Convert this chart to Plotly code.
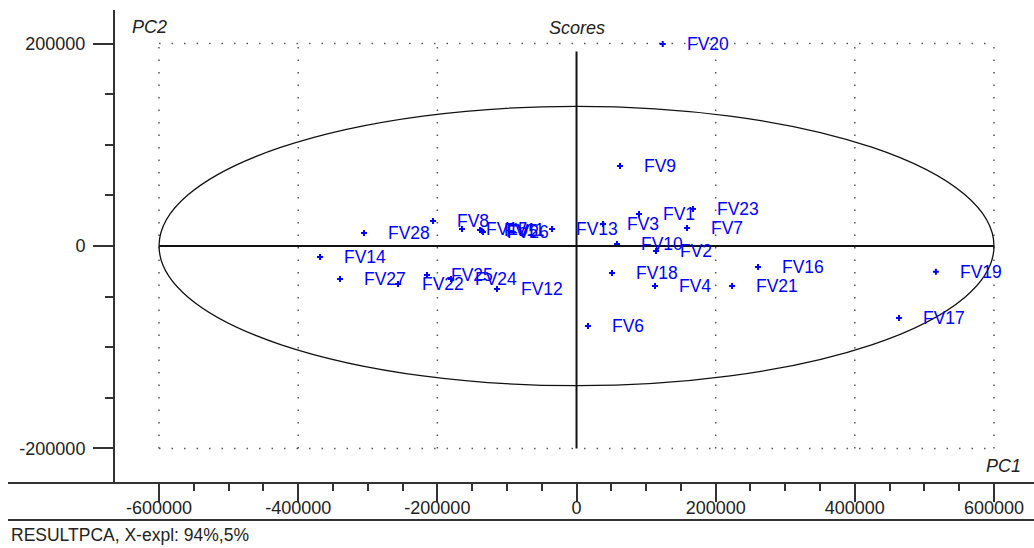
import plotly.graph_objects as go

# ---- data (PCA scores) ----
names = ["FV1", "FV2", "FV3", "FV4", "FV5", "FV6", "FV7", "FV8", "FV9", "FV10",
         "FV11", "FV12", "FV13", "FV14", "FV15", "FV16", "FV17", "FV18", "FV19", "FV20",
         "FV21", "FV22", "FV23", "FV24", "FV25", "FV26", "FV27", "FV28"]
pc1 = [89800, 114300, 38100, 112800, -136000, 16500, 158800, -206200, 62500, 58200,
       -138700, -114300, -35200, -368600, -164600, 260900, 463500, 51000, 516500, 123900,
       223600, -256500, 167400, -180400, -214900, -134400, -339900, -305400]
pc2 = [31600, -4900, 21700, -39500, 15000, -79000, 17800, 24700, 79000, 2000,
       15800, -42500, 16800, -10900, 16800, -20700, -71100, -26700, -25400, 199500,
       -39500, -37500, 36500, -32600, -28600, 13800, -32600, 12800]

x_ticks = [-600000, -400000, -200000, 0, 200000, 400000, 600000]
x_ticktext = ["-600000", "-400000", "-200000", "0", "200000", "400000", "600000"]
y_ticks = [-200000, 0, 200000]
y_ticktext = ["-200000", "0", "200000"]
x_minor = list(range(-600000, 600001, 50000))
y_minor = list(range(-200000, 200001, 50000))

grid_x = [-600000, -400000, -200000, 200000, 400000, 600000]
grid_y = [-200000, 200000]
ellipse_a = 600000
ellipse_b = 138000

W, H = 1034, 548
ML, MR, MT, MB = 115, 0, 10, 65
PW, PH = W - ML - MR, H - MT - MB

def px_x(p):
    return (p - ML) / PW

def px_y(p):
    return (H - MB - p) / PH

FONT = "Liberation Sans, Arial, sans-serif"
BLUE = "#0000ff"
DARK = "#333333"

fig = go.Figure()
fig.add_trace(go.Scatter(
    x=pc1, y=pc2, mode="markers",
    marker=dict(symbol="cross", size=5, color=BLUE, line=dict(width=0)),
    hovertext=names, showlegend=False,
))

shapes = []
# dotted grid box
for gx in grid_x:
    shapes.append(dict(type="line", xref="x", yref="y", x0=gx, x1=gx,
                       y0=grid_y[0], y1=grid_y[1],
                       line=dict(color="#555555", width=1.5, dash="1.5px,11px"), layer="below"))
for gy in grid_y:
    shapes.append(dict(type="line", xref="x", yref="y", x0=grid_x[0], x1=grid_x[-1],
                       y0=gy, y1=gy,
                       line=dict(color="#555555", width=1.5, dash="1.5px,11px"), layer="below"))
# zero lines
shapes.append(dict(type="line", xref="x", yref="y", x0=-ellipse_a, x1=ellipse_a, y0=0, y1=0,
                   line=dict(color="#111111", width=2)))
shapes.append(dict(type="line", xref="x", yref="y", x0=0, x1=0, y0=-200000, y1=192000,
                   line=dict(color="#111111", width=2)))
# ellipse
shapes.append(dict(type="circle", xref="x", yref="y", x0=-ellipse_a, x1=ellipse_a,
                   y0=-ellipse_b, y1=ellipse_b, line=dict(color="#111111", width=1.3)))
# x axis line (extends past y axis) and separator line
shapes.append(dict(type="line", xref="paper", yref="paper", x0=px_x(8), x1=1.0,
                   y0=0, y1=0, line=dict(color=DARK, width=2)))
shapes.append(dict(type="line", xref="paper", yref="paper", x0=px_x(8), x1=1.0,
                   y0=px_y(520), y1=px_y(520), line=dict(color=DARK, width=2)))

annotations = []
for n, xv, yv in zip(names, pc1, pc2):
    annotations.append(dict(x=xv, y=yv, xref="x", yref="y", text=n, showarrow=False,
                            xanchor="left", yanchor="middle", xshift=22,
                            font=dict(family=FONT, size=17.5, color=BLUE)))
annotations.append(dict(x=0, y=px_y(28), xref="x", yref="paper", text="<i>Scores</i>",
                        showarrow=False, xanchor="center", yanchor="middle",
                        font=dict(family=FONT, size=18, color="#222222")))
annotations.append(dict(x=px_x(149), y=px_y(27), xref="paper", yref="paper", text="<i>PC2</i>",
                        showarrow=False, xanchor="center", yanchor="middle",
                        font=dict(family=FONT, size=18, color="#222222")))
annotations.append(dict(x=px_x(1003), y=px_y(466), xref="paper", yref="paper", text="<i>PC1</i>",
                        showarrow=False, xanchor="center", yanchor="middle",
                        font=dict(family=FONT, size=18, color="#222222")))
annotations.append(dict(x=px_x(9), y=px_y(535), xref="paper", yref="paper",
                        text="RESULTPCA, X-expl: 94%,5%",
                        showarrow=False, xanchor="left", yanchor="middle",
                        font=dict(family=FONT, size=17.5, color="#222222")))

fig.update_layout(
    width=W, height=H, autosize=False,
    margin=dict(l=ML, r=MR, t=MT, b=MB, pad=0),
    paper_bgcolor="white", plot_bgcolor="white",
    shapes=shapes, annotations=annotations,
    xaxis=dict(range=[-663300, 657500], showgrid=False, zeroline=False, showline=False,
               tickmode="array", tickvals=x_ticks, ticktext=x_ticktext,
               ticks="outside", ticklen=18, tickwidth=1.5, tickcolor=DARK,
               ticklabelstandoff=-10,
               tickfont=dict(family=FONT, size=18, color="#222222"),
               minor=dict(tickmode="array", tickvals=x_minor, ticks="outside",
                          ticklen=7, tickwidth=1.5, tickcolor=DARK, showgrid=False)),
    yaxis=dict(range=[-234100, 233100], showgrid=False, zeroline=False,
               showline=True, linecolor=DARK, linewidth=2,
               tickmode="array", tickvals=y_ticks, ticktext=y_ticktext,
               ticks="outside", ticklen=20, tickwidth=1.5, tickcolor=DARK,
               ticklabelstandoff=4,
               tickfont=dict(family=FONT, size=18, color="#222222"),
               minor=dict(tickmode="array", tickvals=y_minor, ticks="outside",
                          ticklen=8, tickwidth=1.5, tickcolor=DARK, showgrid=False)),
)

fig.write_html("out.html")
